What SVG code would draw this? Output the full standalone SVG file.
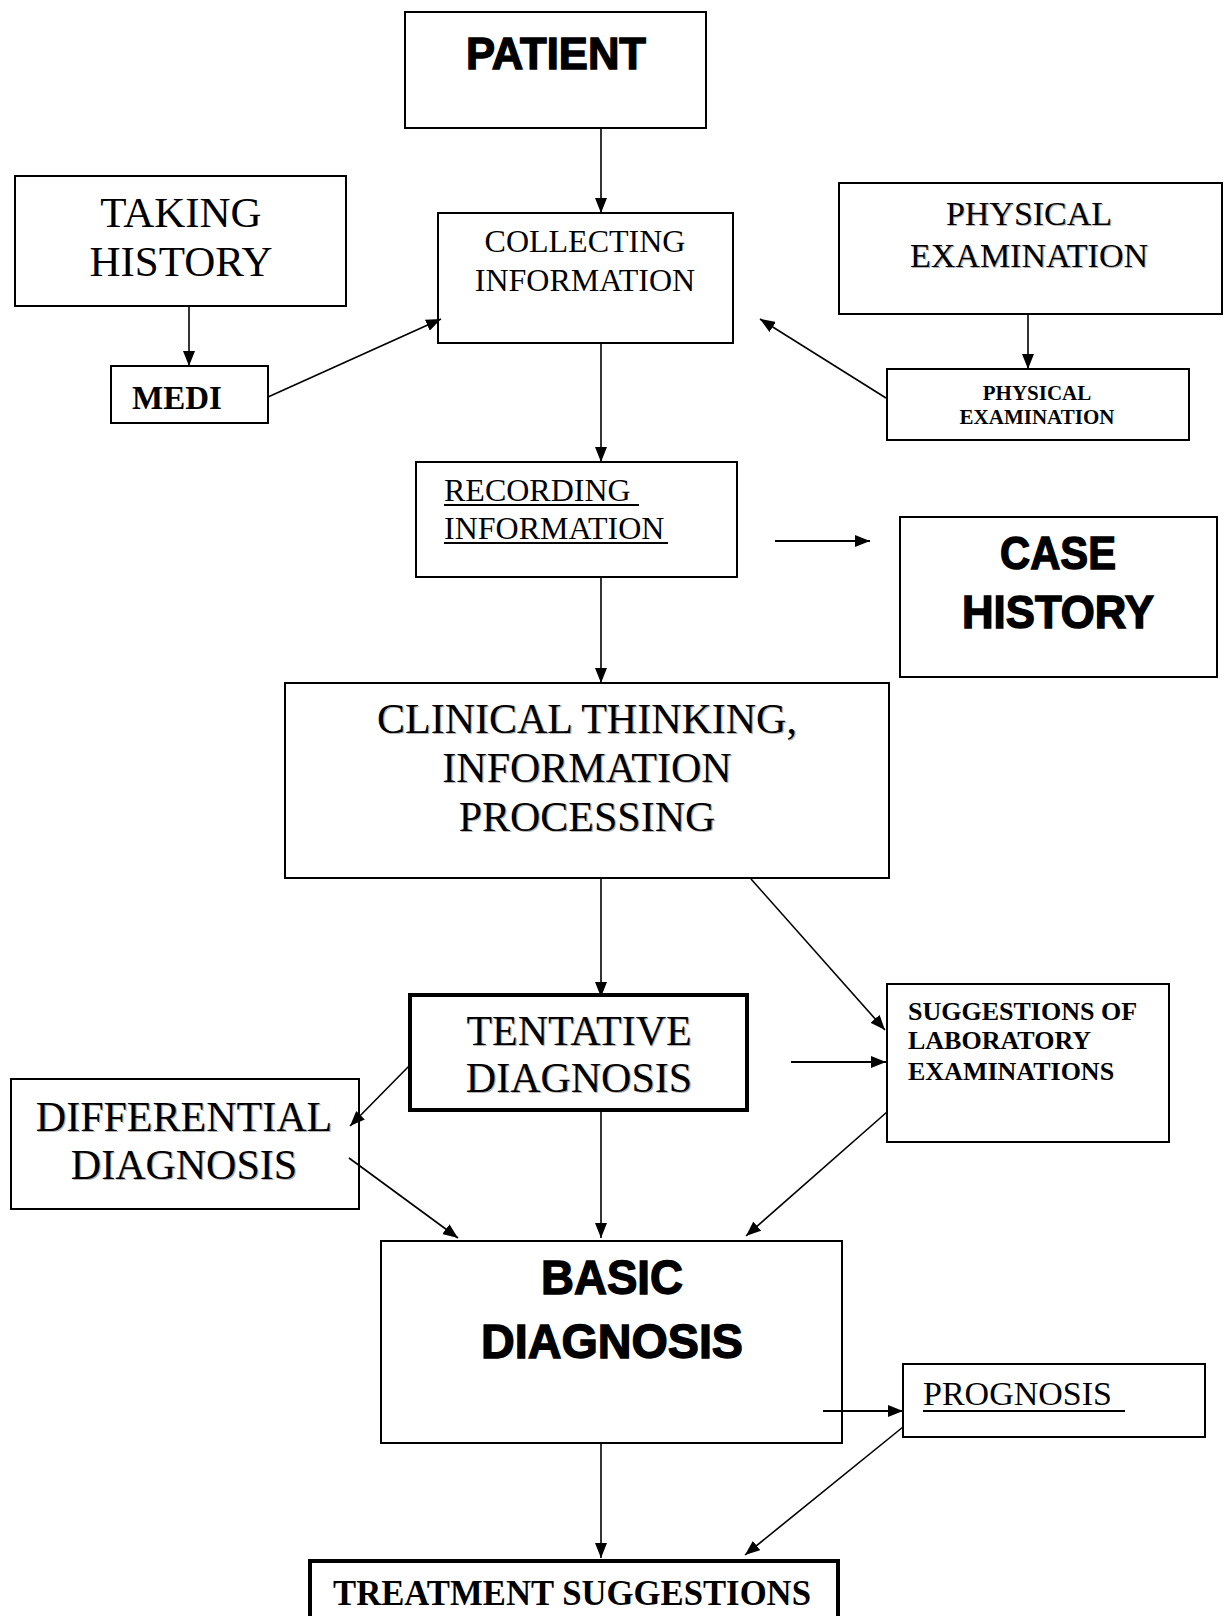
<svg xmlns="http://www.w3.org/2000/svg" width="1225" height="1616" viewBox="0 0 1225 1616">
<style>
.box{fill:#fff;stroke:#000;stroke-width:2}
.thick{stroke-width:4}
.serif{font-family:"Liberation Serif","Times New Roman",serif;fill:#000}
.bserif{font-family:"Liberation Serif","Times New Roman",serif;font-weight:bold;fill:#000}
.heavy{font-family:"Liberation Sans",Arial,sans-serif;font-weight:bold;fill:#000;stroke:#000;stroke-width:1.4;text-anchor:middle}
.mid{text-anchor:middle}
.shadow{fill:#b4b4b4}
.conn line{stroke:#000;stroke-width:1.6;marker-end:url(#arr)}
.conn line.h{stroke-width:2.2}
.ul{stroke:#000;stroke-width:2}
</style>
<defs>
<marker id="arr" markerUnits="userSpaceOnUse" markerWidth="15" markerHeight="12" refX="15" refY="6" orient="auto">
<path d="M0,0 L15,6 L0,12 z" fill="#000"/>
</marker>
</defs>
<rect width="1225" height="1616" fill="#fff"/>

<g id="patient">
<rect class="box" x="405" y="12" width="301" height="116"/>
<text class="heavy" x="556" y="69" font-size="45" textLength="180" lengthAdjust="spacingAndGlyphs">PATIENT</text>
</g>

<g id="taking-history">
<rect class="box" x="15" y="176" width="331" height="130"/>
<text class="serif mid" x="181" y="227" font-size="43">TAKING</text>
<text class="serif mid" x="181" y="276" font-size="43">HISTORY</text>
</g>

<g id="medi">
<rect class="box" x="111" y="366" width="157" height="57"/>
<text class="bserif" x="132" y="409" font-size="33">MEDI</text>
</g>

<g id="collecting-information">
<rect class="box" x="438" y="213" width="295" height="130"/>
<text class="serif mid" x="585" y="252" font-size="32">COLLECTING</text>
<text class="serif mid" x="585" y="291" font-size="32">INFORMATION</text>
</g>

<g id="physical-examination">
<rect class="box" x="839" y="183" width="383" height="131"/>
<text class="serif mid shadow" x="1030.2" y="226.2" font-size="34">PHYSICAL</text>
<text class="serif mid shadow" x="1030.2" y="268.2" font-size="34">EXAMINATION</text>
<text class="serif mid" x="1029" y="225" font-size="34">PHYSICAL</text>
<text class="serif mid" x="1029" y="267" font-size="34">EXAMINATION</text>
</g>

<g id="physical-examination-2">
<rect class="box" x="887" y="369" width="302" height="71"/>
<text class="bserif mid" x="1037" y="400" font-size="21">PHYSICAL</text>
<text class="bserif mid" x="1037" y="424" font-size="21">EXAMINATION</text>
</g>

<g id="recording-information">
<rect class="box" x="416" y="462" width="321" height="115"/>
<text class="serif" x="444" y="501" font-size="32">RECORDING </text>
<line class="ul" x1="444" y1="505" x2="639" y2="505"/>
<text class="serif" x="444" y="539" font-size="32">INFORMATION</text>
<line class="ul" x1="444" y1="543" x2="668" y2="543"/>
</g>

<g id="case-history">
<rect class="box" x="900" y="517" width="317" height="160"/>
<text class="heavy" x="1058" y="569" font-size="46" textLength="116" lengthAdjust="spacingAndGlyphs">CASE</text>
<text class="heavy" x="1058" y="628" font-size="46" textLength="192" lengthAdjust="spacingAndGlyphs">HISTORY</text>
</g>

<g id="clinical-thinking">
<rect class="box" x="285" y="683" width="604" height="195"/>
<text class="serif mid shadow" x="588.2" y="734.2" font-size="42">CLINICAL THINKING,</text>
<text class="serif mid shadow" x="588.2" y="783.2" font-size="42">INFORMATION</text>
<text class="serif mid shadow" x="588.2" y="832.2" font-size="42">PROCESSING</text>
<text class="serif mid" x="587" y="733" font-size="42">CLINICAL THINKING,</text>
<text class="serif mid" x="587" y="782" font-size="42">INFORMATION</text>
<text class="serif mid" x="587" y="831" font-size="42">PROCESSING</text>
</g>

<g id="tentative-diagnosis">
<rect class="box thick" x="410" y="995" width="337" height="115"/>
<text class="serif mid shadow" x="580.2" y="1046.2" font-size="42">TENTATIVE</text>
<text class="serif mid shadow" x="580.2" y="1093.2" font-size="42">DIAGNOSIS</text>
<text class="serif mid" x="579" y="1045" font-size="42">TENTATIVE</text>
<text class="serif mid" x="579" y="1092" font-size="42">DIAGNOSIS</text>
</g>

<g id="suggestions-lab">
<rect class="box" x="887" y="984" width="282" height="158"/>
<text class="bserif" x="908" y="1020" font-size="26">SUGGESTIONS OF</text>
<text class="bserif" x="908" y="1049" font-size="26">LABORATORY</text>
<text class="bserif" x="908" y="1080" font-size="26">EXAMINATIONS</text>
</g>

<g id="differential-diagnosis">
<rect class="box" x="11" y="1079" width="348" height="130"/>
<text class="serif mid shadow" x="185.2" y="1132.2" font-size="42">DIFFERENTIAL</text>
<text class="serif mid shadow" x="185.2" y="1180.2" font-size="42">DIAGNOSIS</text>
<text class="serif mid" x="184" y="1131" font-size="42">DIFFERENTIAL</text>
<text class="serif mid" x="184" y="1179" font-size="42">DIAGNOSIS</text>
</g>

<g id="basic-diagnosis">
<rect class="box" x="381" y="1241" width="461" height="202"/>
<text class="heavy" x="612" y="1294" font-size="49" textLength="142" lengthAdjust="spacingAndGlyphs">BASIC</text>
<text class="heavy" x="612" y="1358" font-size="49" textLength="262" lengthAdjust="spacingAndGlyphs">DIAGNOSIS</text>
</g>

<g id="prognosis">
<rect class="box" x="903" y="1364" width="302" height="73"/>
<text class="serif" x="923" y="1405" font-size="34">PROGNOSIS </text>
<line class="ul" x1="923" y1="1411" x2="1125" y2="1411"/>
</g>

<g id="treatment-suggestions">
<rect class="box thick" x="310" y="1561" width="528" height="70"/>
<text class="bserif mid" x="572" y="1605" font-size="35" textLength="478" lengthAdjust="spacingAndGlyphs">TREATMENT SUGGESTIONS</text>
</g>

<g class="conn" id="connectors">
<line x1="601" y1="129" x2="601" y2="213"/>
<line x1="189" y1="307" x2="189" y2="366"/>
<line x1="268" y1="397" x2="441" y2="319"/>
<line x1="1028" y1="315" x2="1028" y2="369"/>
<line x1="886" y1="398" x2="760" y2="319"/>
<line x1="601" y1="344" x2="601" y2="462"/>
<line class="h" x1="775" y1="541" x2="870" y2="541"/>
<line x1="601" y1="578" x2="601" y2="683"/>
<line x1="601" y1="879" x2="601" y2="997"/>
<line x1="751" y1="879" x2="885" y2="1030"/>
<line class="h" x1="791" y1="1062" x2="886" y2="1062"/>
<line x1="411" y1="1064" x2="350" y2="1126"/>
<line x1="601" y1="1112" x2="601" y2="1238"/>
<line x1="349" y1="1158" x2="458" y2="1238"/>
<line x1="887" y1="1112" x2="746" y2="1236"/>
<line class="h" x1="823" y1="1411" x2="903" y2="1411"/>
<line x1="601" y1="1444" x2="601" y2="1558"/>
<line x1="903" y1="1427" x2="745" y2="1555"/>
</g>
</svg>
